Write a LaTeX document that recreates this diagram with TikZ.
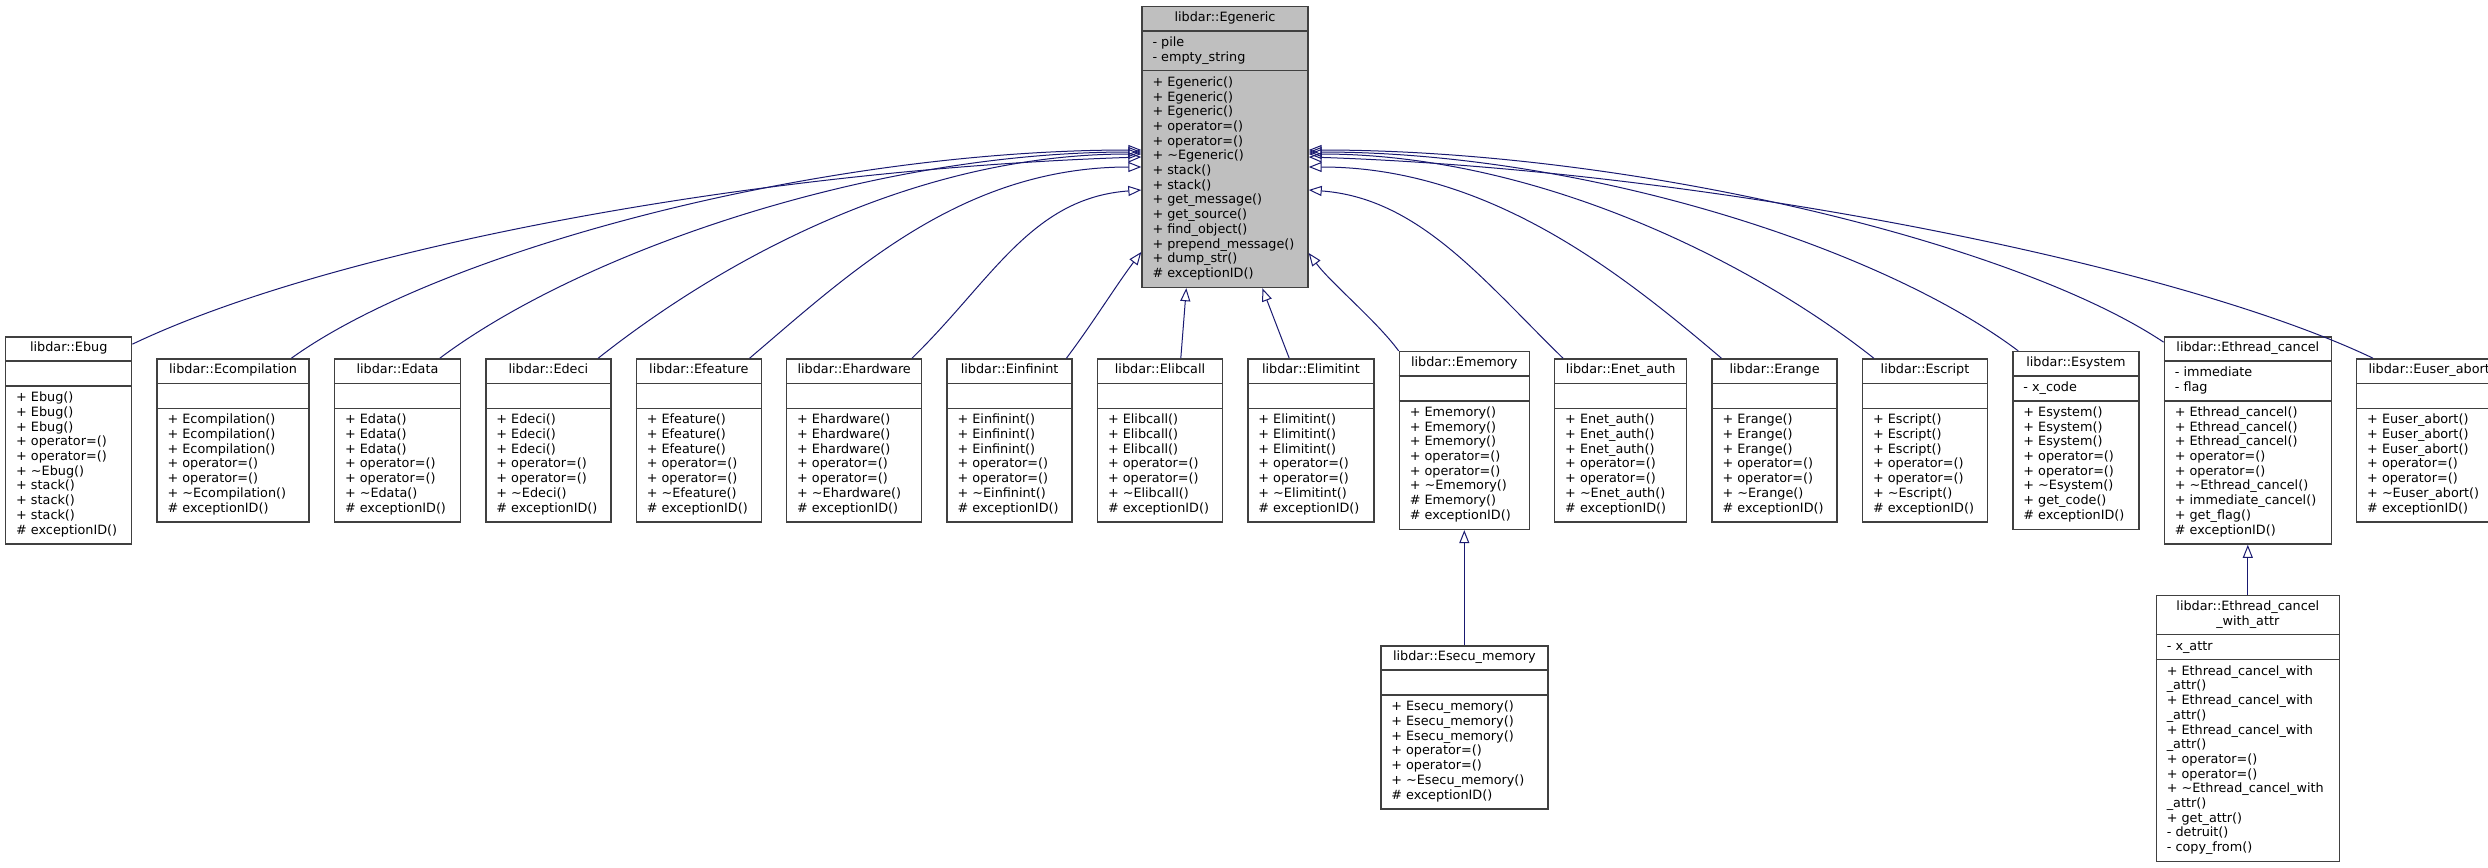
\documentclass[tikz,border=0pt]{standalone}
\usepackage{fontspec}
\setmainfont{DejaVu Sans}
\usetikzlibrary{positioning,calc,arrows.meta}

\definecolor{edgeblue}{HTML}{191970}
\definecolor{boxgray}{HTML}{404040}
\definecolor{basegray}{HTML}{BFBFBF}
\newcommand{\umlfont}{\fontsize{12.8}{14.7}\selectfont}
\newcommand{\dtor}{\textasciitilde}

\tikzset{
  clsbox/.style={draw=boxgray, line width=1.4pt, fill=white, inner sep=0pt},
  clsline/.style={draw=boxgray, line width=1.4pt},
  clstext/.style={inner sep=0pt, font=\umlfont},
  inh/.style={edgeblue, line width=1pt, -{Triangle[open,length=13pt,width=10pt]}},
}

% options, name, width, lines of title / attributes / methods, title, attributes, methods
\newcommand{\umlclass}[9]{%
  \node[clsbox, minimum width=#3pt, minimum height={(#4+#5+#6)*14.7pt+30.9pt}, #1] (#2) {};
  \draw[clsline] ($(#2.north west)+(0,{#4*14.7+10.3})$) -- ($(#2.north east)+(0,{#4*14.7+10.3})$);
  \draw[clsline] ($(#2.north west)+(0,{(#4+#5)*14.7+20.6})$) -- ($(#2.north east)+(0,{(#4+#5)*14.7+20.6})$);
  \node[clstext, align=center, anchor=north] (#2-title) at ($(#2.north)+(0,5.15)$) {\strut #7};
  \node[clstext, align=left, anchor=north west] (#2-attr) at ($(#2.north west)+(11,{#4*14.7+15.45})$) {\strut #8};
  \node[clstext, align=left, anchor=north west] (#2-ops) at ($(#2.north west)+(11,{(#4+#5)*14.7+25.75})$) {\strut #9};
}

\begin{document}
\begin{tikzpicture}[x=1pt,y=-1pt]
  \useasboundingbox (0,0) rectangle (2488,867);

  % base class
  \umlclass{fill=basegray, anchor=north, at={(1225,6)}}{egeneric}{166}{1}{2}{14}
    {libdar::Egeneric}
    {- pile\\- empty\_string}
    {+ Egeneric()\\+ Egeneric()\\+ Egeneric()\\+ operator=()\\+ operator=()\\+ \dtor Egeneric()\\
     + stack()\\+ stack()\\+ get\_message()\\+ get\_source()\\+ find\_object()\\
     + prepend\_message()\\+ dump\_str()\\\# exceptionID()}

  % derived classes
  \umlclass{anchor=west, at={(5,440.5)}}{ebug}{126}{1}{1}{10}
    {libdar::Ebug}{}
    {+ Ebug()\\+ Ebug()\\+ Ebug()\\+ operator=()\\+ operator=()\\+ \dtor Ebug()\\
     + stack()\\+ stack()\\+ stack()\\\# exceptionID()}
  \umlclass{right=24pt of ebug}{ecompilation}{152}{1}{1}{7}
    {libdar::Ecompilation}{}
    {+ Ecompilation()\\+ Ecompilation()\\+ Ecompilation()\\+ operator=()\\+ operator=()\\
     + \dtor Ecompilation()\\\# exceptionID()}
  \umlclass{right=24pt of ecompilation}{edata}{126}{1}{1}{7}
    {libdar::Edata}{}
    {+ Edata()\\+ Edata()\\+ Edata()\\+ operator=()\\+ operator=()\\+ \dtor Edata()\\\# exceptionID()}
  \umlclass{right=24pt of edata}{edeci}{125}{1}{1}{7}
    {libdar::Edeci}{}
    {+ Edeci()\\+ Edeci()\\+ Edeci()\\+ operator=()\\+ operator=()\\+ \dtor Edeci()\\\# exceptionID()}
  \umlclass{right=24pt of edeci}{efeature}{125}{1}{1}{7}
    {libdar::Efeature}{}
    {+ Efeature()\\+ Efeature()\\+ Efeature()\\+ operator=()\\+ operator=()\\+ \dtor Efeature()\\\# exceptionID()}
  \umlclass{right=24pt of efeature}{ehardware}{135}{1}{1}{7}
    {libdar::Ehardware}{}
    {+ Ehardware()\\+ Ehardware()\\+ Ehardware()\\+ operator=()\\+ operator=()\\+ \dtor Ehardware()\\\# exceptionID()}
  \umlclass{right=24pt of ehardware}{einfinint}{125}{1}{1}{7}
    {libdar::Einfinint}{}
    {+ Einfinint()\\+ Einfinint()\\+ Einfinint()\\+ operator=()\\+ operator=()\\+ \dtor Einfinint()\\\# exceptionID()}
  \umlclass{right=24pt of einfinint}{elibcall}{125}{1}{1}{7}
    {libdar::Elibcall}{}
    {+ Elibcall()\\+ Elibcall()\\+ Elibcall()\\+ operator=()\\+ operator=()\\+ \dtor Elibcall()\\\# exceptionID()}
  \umlclass{right=24pt of elibcall}{elimitint}{126}{1}{1}{7}
    {libdar::Elimitint}{}
    {+ Elimitint()\\+ Elimitint()\\+ Elimitint()\\+ operator=()\\+ operator=()\\+ \dtor Elimitint()\\\# exceptionID()}
  \umlclass{right=24pt of elimitint}{ememory}{130}{1}{1}{8}
    {libdar::Ememory}{}
    {+ Ememory()\\+ Ememory()\\+ Ememory()\\+ operator=()\\+ operator=()\\+ \dtor Ememory()\\
     \# Ememory()\\\# exceptionID()}
  \umlclass{right=24pt of ememory}{enetauth}{132}{1}{1}{7}
    {libdar::Enet\_auth}{}
    {+ Enet\_auth()\\+ Enet\_auth()\\+ Enet\_auth()\\+ operator=()\\+ operator=()\\+ \dtor Enet\_auth()\\\# exceptionID()}
  \umlclass{right=24pt of enetauth}{erange}{125}{1}{1}{7}
    {libdar::Erange}{}
    {+ Erange()\\+ Erange()\\+ Erange()\\+ operator=()\\+ operator=()\\+ \dtor Erange()\\\# exceptionID()}
  \umlclass{right=24pt of erange}{escript}{125}{1}{1}{7}
    {libdar::Escript}{}
    {+ Escript()\\+ Escript()\\+ Escript()\\+ operator=()\\+ operator=()\\+ \dtor Escript()\\\# exceptionID()}
  \umlclass{right=24pt of escript}{esystem}{126}{1}{1}{8}
    {libdar::Esystem}{- x\_code}
    {+ Esystem()\\+ Esystem()\\+ Esystem()\\+ operator=()\\+ operator=()\\+ \dtor Esystem()\\
     + get\_code()\\\# exceptionID()}
  \umlclass{right=24pt of esystem}{ethread}{167}{1}{2}{9}
    {libdar::Ethread\_cancel}{- immediate\\- flag}
    {+ Ethread\_cancel()\\+ Ethread\_cancel()\\+ Ethread\_cancel()\\+ operator=()\\+ operator=()\\
     + \dtor Ethread\_cancel()\\+ immediate\_cancel()\\+ get\_flag()\\\# exceptionID()}
  \umlclass{right=24pt of ethread}{euserabort}{145}{1}{1}{7}
    {libdar::Euser\_abort}{}
    {+ Euser\_abort()\\+ Euser\_abort()\\+ Euser\_abort()\\+ operator=()\\+ operator=()\\
     + \dtor Euser\_abort()\\\# exceptionID()}

  % second level
  \umlclass{below=115pt of ememory}{esecu}{167}{1}{1}{7}
    {libdar::Esecu\_memory}{}
    {+ Esecu\_memory()\\+ Esecu\_memory()\\+ Esecu\_memory()\\+ operator=()\\+ operator=()\\
     + \dtor Esecu\_memory()\\\# exceptionID()}
  \umlclass{below=50pt of ethread}{ethreadattr}{183}{2}{1}{13}
    {libdar::Ethread\_cancel\\\_with\_attr}{- x\_attr}
    {+ Ethread\_cancel\_with\\\_attr()\\+ Ethread\_cancel\_with\\\_attr()\\+ Ethread\_cancel\_with\\\_attr()\\
     + operator=()\\+ operator=()\\+ \dtor Ethread\_cancel\_with\\\_attr()\\+ get\_attr()\\
     - detruit()\\- copy\_from()}

  % inheritance, left side
  \draw[inh] ($(ebug.north east)+(0,8)$) .. controls +(199,-95) and +(-392,13) .. ($(egeneric.north west)+(0,151)$);
  \draw[inh] ($(ecompilation.north west)+(135,0)$) .. controls +(150,-108) and +(-322,0) .. ($(egeneric.north west)+(0,144)$);
  \draw[inh] ($(edata.north west)+(106,0)$) .. controls +(140,-105) and +(-272,0) .. ($(egeneric.north west)+(0,146)$);
  \draw[inh] ($(edeci.north west)+(113,0)$) .. controls +(120,-95) and +(-230,0) .. ($(egeneric.north west)+(0,148)$);
  \draw[inh] ($(efeature.north west)+(114,0)$) .. controls +(100,-85) and +(-180,0) .. ($(egeneric.north west)+(0,161)$);
  \draw[inh] ($(ehardware.north west)+(126,0)$) .. controls +(80,-78) and +(-110,8) .. ($(egeneric.north west)+(0,184)$);
  \draw[inh] ($(einfinint.north west)+(120,0)$) .. controls +(25,-33) and +(-25,33) .. ($(egeneric.north west)+(0,246)$);
  % bottom
  \draw[inh] ($(elibcall.north west)+(84,0)$) -- ($(egeneric.south west)+(45,0)$);
  \draw[inh] ($(elimitint.north west)+(42,0)$) -- ($(egeneric.south west)+(121,0)$);
  % right side
  \draw[inh] (ememory.north west) .. controls +(-22,-30) and +(22,30) .. ($(egeneric.north east)+(0,247)$);
  \draw[inh] ($(enetauth.north west)+(9,0)$) .. controls +(-80,-78) and +(110,8) .. ($(egeneric.north east)+(0,184)$);
  \draw[inh] ($(erange.north west)+(10,0)$) .. controls +(-100,-85) and +(180,0) .. ($(egeneric.north east)+(0,161)$);
  \draw[inh] ($(escript.north west)+(12,0)$) .. controls +(-120,-95) and +(230,0) .. ($(egeneric.north east)+(0,148)$);
  \draw[inh] ($(esystem.north west)+(6,0)$) .. controls +(-140,-105) and +(272,0) .. ($(egeneric.north east)+(0,146)$);
  \draw[inh] ($(ethread.north west)+(0,6)$) .. controls +(-150,-100) and +(322,0) .. ($(egeneric.north east)+(0,144)$);
  \draw[inh] ($(euserabort.north west)+(17,0)$) .. controls +(-199,-95) and +(392,13) .. ($(egeneric.north east)+(0,151)$);

  % second level
  \draw[inh] (esecu.north) -- (ememory.south);
  \draw[inh] (ethreadattr.north) -- (ethread.south);
\end{tikzpicture}
\end{document}
